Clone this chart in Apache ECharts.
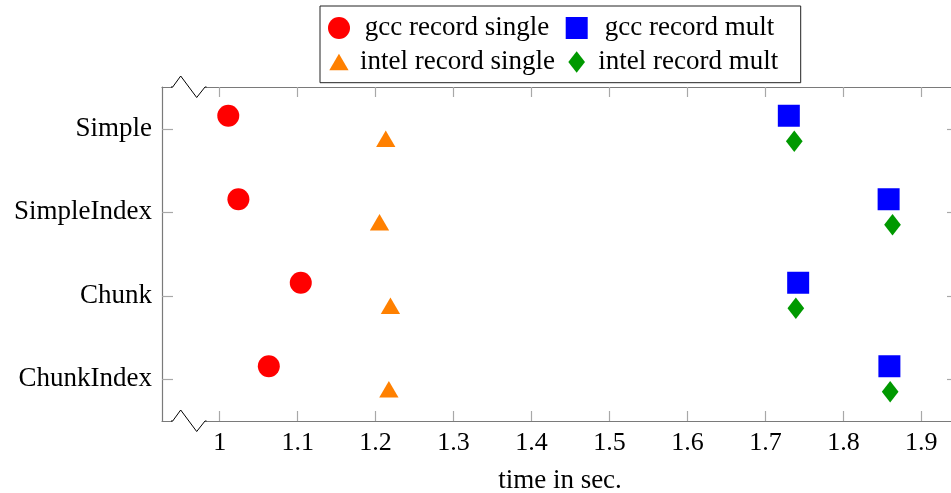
<!DOCTYPE html>
<html>
<head>
<meta charset="utf-8">
<script src="https://cdn.jsdelivr.net/npm/echarts@6/dist/echarts.min.js"></script>
<style>html,body{margin:0;padding:0;background:#fff}#c{width:951px;height:493px}</style>
</head>
<body>
<div id="c"></div>
<script>
const categories = ['Simple', 'SimpleIndex', 'Chunk', 'ChunkIndex'];
const gccSingle = [1.011, 1.024, 1.104, 1.063];
const gccMult = [1.730, 1.858, 1.742, 1.859];
const intelSingle = [1.213, 1.205, 1.219, 1.217];
const intelMult = [1.737, 1.863, 1.739, 1.860];
const xTicks = [1, 1.1, 1.2, 1.3, 1.4, 1.5, 1.6, 1.7, 1.8, 1.9];
const seriesNames = ['gcc record single', 'gcc record mult', 'intel record single', 'intel record mult'];
const xName = 'time in sec.';

const FONT = "'Liberation Serif', 'DejaVu Serif', serif";
const FS = 27;
const AXIS_COLOR = '#7a7a7a';
const TICK_COLOR = '#a8a8a8';

const cv = document.createElement('canvas').getContext('2d');
cv.font = FS + 'px ' + FONT;
function tw(s) { return cv.measureText(s).width; }

function legendItem(name, icon, iconLeft, centerY, iw, ih, textCenter) {
  const start = textCenter - tw(name) / 2;
  const pad = start - (iconLeft + iw + 5);
  return {
    data: [{ name: name, icon: icon }],
    left: iconLeft, top: centerY - 15,
    itemWidth: iw, itemHeight: ih, padding: 0,
    selectedMode: false,
    textStyle: { fontFamily: FONT, fontSize: FS, color: '#000', lineHeight: 30, padding: [0, 0, 0, pad] }
  };
}

const chart = echarts.init(document.getElementById('c'), null, { renderer: 'canvas' });

function mk(name, vals, symbol, size, offset, color) {
  return {
    name: name, type: 'scatter', xAxisIndex: 0, yAxisIndex: 0,
    symbol: symbol, symbolSize: size, symbolOffset: offset,
    itemStyle: { color: color, opacity: 1 },
    emphasis: { disabled: true },
    data: categories.map((c, i) => [vals[i], c])
  };
}

const gridTop = 87, gridBottom = 421, gridLeft = 162;

function zig(y) {
  return [
    { type: 'rect', z: 100, shape: { x: 172.5, y: y - 2, width: 33, height: 4 }, style: { fill: '#fff' } },
    { type: 'polyline', z: 101, shape: { points: [[171, y], [172.7, y], [180.7, y - 11], [196.7, y + 10.5], [205, y], [206.5, y]] },
      style: { stroke: '#000', lineWidth: 1, fill: null } }
  ];
}

const option = {
  animation: false,
  backgroundColor: '#fff',
  grid: { left: gridLeft, top: gridTop, width: 796, height: gridBottom - gridTop, containLabel: false, outerBoundsMode: 'none' },
  xAxis: [
    {
      type: 'value', position: 'bottom', min: 0.926, max: 1.947,
      name: xName, nameLocation: 'middle', nameGap: 46,
      nameTextStyle: { fontFamily: FONT, fontSize: FS, color: '#000' },
      axisLine: { show: true, lineStyle: { color: AXIS_COLOR, width: 1.2 } },
      axisTick: { show: true, inside: true, length: 10, customValues: xTicks, lineStyle: { color: TICK_COLOR, width: 1.2 } },
      axisLabel: { customValues: xTicks, fontFamily: FONT, fontSize: 26, color: '#000', margin: 9 },
      splitLine: { show: false }
    },
    {
      type: 'value', position: 'top', min: 0.926, max: 1.947,
      axisLine: { show: true, lineStyle: { color: AXIS_COLOR, width: 1.2 } },
      axisTick: { show: true, inside: true, length: 10, customValues: xTicks, lineStyle: { color: TICK_COLOR, width: 1.2 } },
      axisLabel: { show: false },
      splitLine: { show: false }
    }
  ],
  yAxis: [
    {
      type: 'category', position: 'left', data: categories, inverse: true, boundaryGap: true,
      axisLine: { show: true, lineStyle: { color: AXIS_COLOR, width: 1.2 } },
      axisTick: { show: true, inside: true, length: 11, alignWithLabel: true, lineStyle: { color: TICK_COLOR, width: 1.2 } },
      axisLabel: { fontFamily: FONT, fontSize: FS, color: '#000', margin: 10 },
      splitLine: { show: false }
    },
    {
      type: 'category', position: 'right', data: categories, inverse: true, boundaryGap: true,
      axisLine: { show: true, lineStyle: { color: AXIS_COLOR, width: 1.2 } },
      axisTick: { show: true, inside: true, length: 11, alignWithLabel: true, lineStyle: { color: TICK_COLOR, width: 1.2 } },
      axisLabel: { show: false },
      splitLine: { show: false }
    }
  ],
  legend: [
    legendItem(seriesNames[0], 'circle', 328, 28, 22, 22, 457),
    legendItem(seriesNames[1], 'rect', 565.7, 28, 22, 22, 689.5),
    legendItem(seriesNames[2], 'triangle', 329.3, 62, 19.3, 16.7, 457.5),
    legendItem(seriesNames[3], 'diamond', 568.3, 62, 16.7, 21.7, 688.3)
  ],
  series: [
    mk(seriesNames[0], gccSingle, 'circle', 22, [0, -13], '#ff0000'),
    mk(seriesNames[1], gccMult, 'rect', 22, [0, -13], '#0000ff'),
    mk(seriesNames[2], intelSingle, 'triangle', [19.3, 16.7], [0, 10], '#ff8000'),
    mk(seriesNames[3], intelMult, 'diamond', [16.7, 21.7], [0, 12.5], '#009900')
  ],
  graphic: [
    { type: 'rect', z: 100, shape: { x: 320, y: 6, width: 480.7, height: 76.7 }, style: { fill: null, stroke: '#222', lineWidth: 1 } }
  ].concat(zig(gridTop)).concat(zig(gridBottom))
};
chart.setOption(option);
</script>
</body>
</html>
